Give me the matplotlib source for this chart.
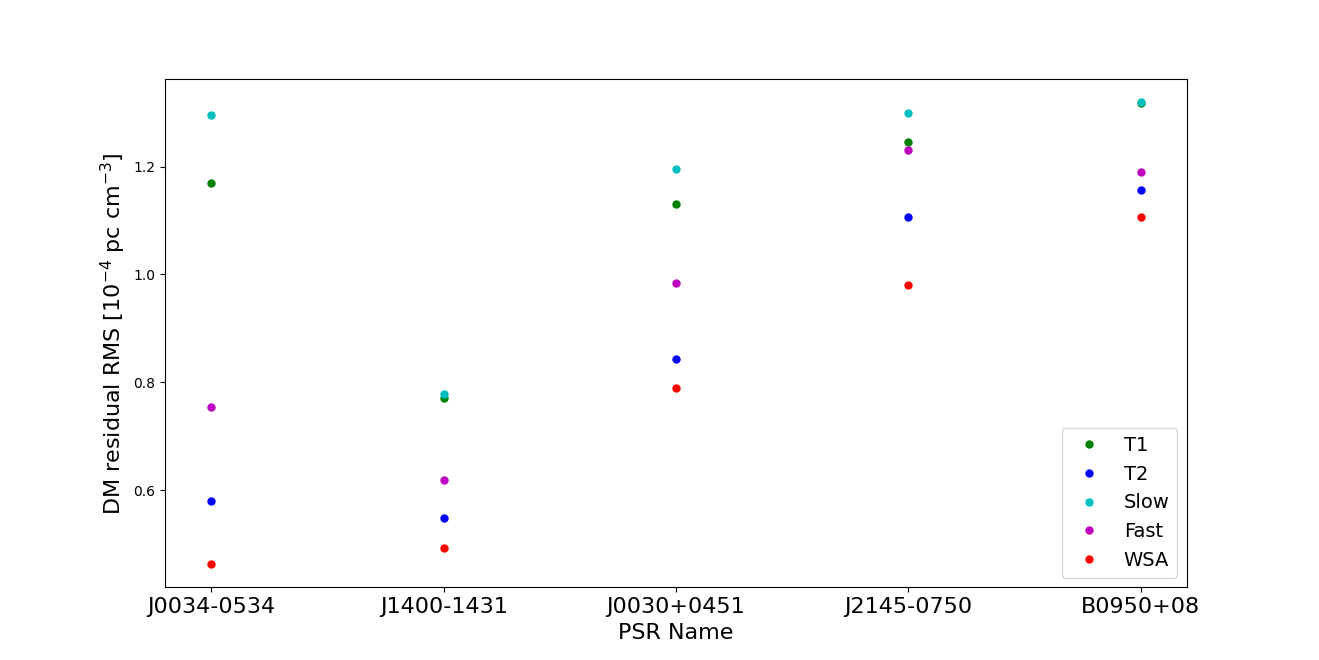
import matplotlib
matplotlib.use("Agg")
import matplotlib.pyplot as plt

psr_names = ["J0034-0534", "J1400-1431", "J0030+0451", "J2145-0750", "B0950+08"]
t1 = [1.169, 0.772, 1.131, 1.246, 1.318]
t2 = [0.580, 0.548, 0.843, 1.107, 1.156]
slow = [1.296, 0.778, 1.196, 1.300, 1.319]
fast = [0.754, 0.620, 0.985, 1.231, 1.189]
wsa = [0.463, 0.494, 0.789, 0.980, 1.106]

fig = plt.figure(figsize=(13.19, 6.6), dpi=100)
ax = fig.add_subplot(111)
x = range(len(psr_names))
ax.plot(x, t1, "go", markersize=5, label="T1")
ax.plot(x, t2, "bo", markersize=5, label="T2")
ax.plot(x, slow, "co", markersize=5, label="Slow")
ax.plot(x, fast, "mo", markersize=5, label="Fast")
ax.plot(x, wsa, "ro", markersize=5, label="WSA")
ax.set_xticks(list(x))
ax.set_xticklabels(psr_names, fontsize=16)
ax.set_xlabel("PSR Name", fontsize=16)
ax.set_ylabel(r"DM residual RMS [$10^{-4}$ pc cm$^{-3}$]", fontsize=16)
ax.legend(loc="lower right", fontsize=14)
fig.savefig("out.png")
